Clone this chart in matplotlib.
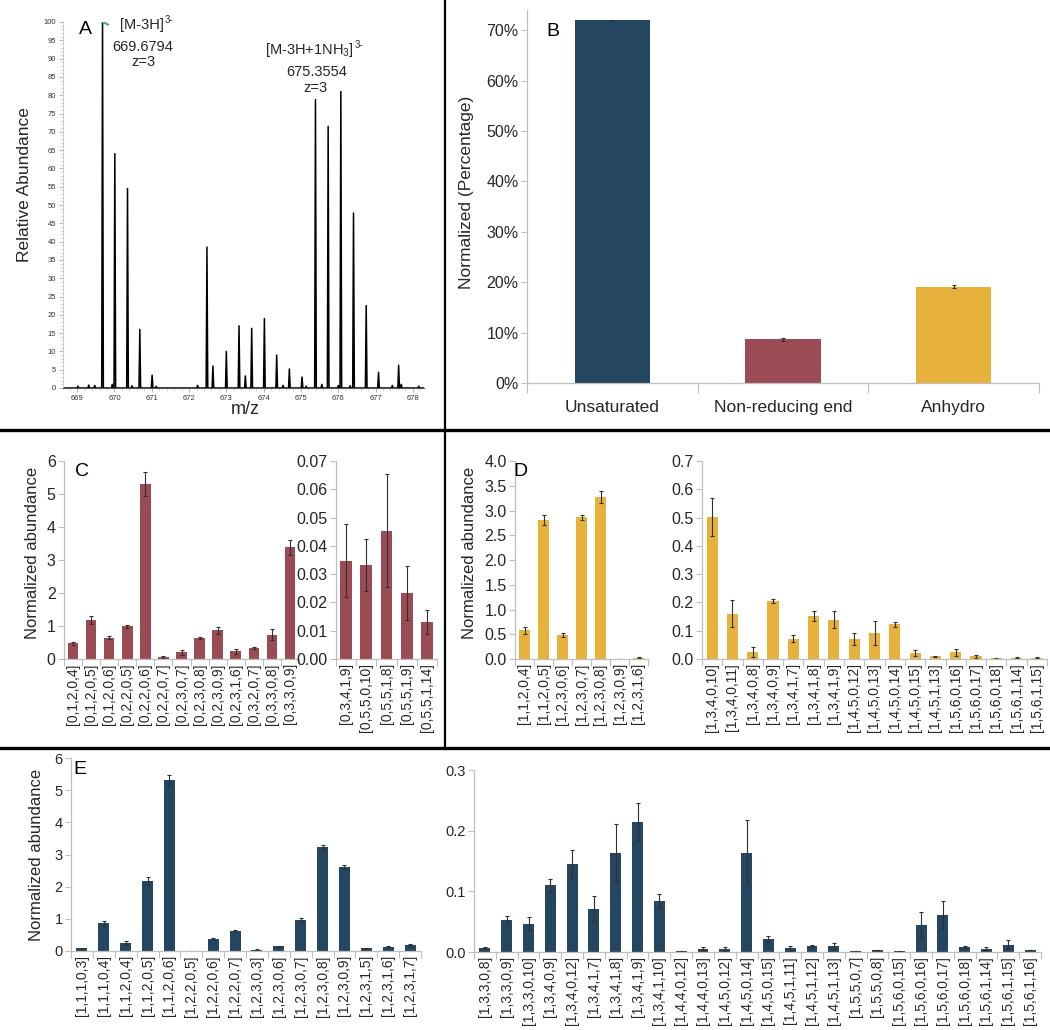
import numpy as np
import matplotlib
matplotlib.use('Agg')
import matplotlib.pyplot as plt
from matplotlib.lines import Line2D
from matplotlib.ticker import FixedLocator, MultipleLocator, FuncFormatter

plt.rcParams['font.family'] = ['Liberation Sans', 'DejaVu Sans']
plt.rcParams['mathtext.default'] = 'regular'

W, H = 1050, 1030

# ---------------- data ----------------
# A: centroid peaks (m/z, relative abundance)
peak_mz = [669.02, 669.31, 669.47, 669.68, 669.94, 670.01, 670.35, 670.47, 670.68,
           671.01, 671.12, 672.23, 672.48, 672.64, 673.00, 673.34, 673.51, 673.68,
           674.02, 674.35, 674.52, 674.69, 675.03, 675.14, 675.39, 675.56, 675.73,
           676.00, 676.07, 676.32, 676.41, 676.75, 677.08, 677.45, 677.62, 677.69,
           678.16]
peak_int = [0.5, 0.8, 0.7, 100, 1.0, 64, 54.5, 0.6, 16,
            3.5, 0.5, 0.7, 38.5, 6, 10, 17, 3.3, 16.3,
            19, 9, 0.7, 5.2, 3, 0.5, 78.8, 1, 71.5,
            0.7, 81, 0.6, 47.8, 22.5, 4.3, 0.7, 6.2, 1,
            0.5]

# B
b_cats = ['Unsaturated', 'Non-reducing end', 'Anhydro']
b_vals = [0.720, 0.087, 0.191]
b_errs = [0.001, 0.003, 0.003]

# C
c1_labels = ['[0,1,2,0,4]', '[0,1,2,0,5]', '[0,1,2,0,6]', '[0,2,2,0,5]', '[0,2,2,0,6]',
             '[0,2,2,0,7]', '[0,2,3,0,7]', '[0,2,3,0,8]', '[0,2,3,0,9]', '[0,2,3,1,6]',
             '[0,3,2,0,7]', '[0,3,3,0,8]', '[0,3,3,0,9]']
c1_vals = [0.47, 1.18, 0.65, 0.99, 5.30, 0.06, 0.20, 0.63, 0.87, 0.23, 0.33, 0.74, 3.38]
c1_errs = [0.06, 0.11, 0.05, 0.04, 0.36, 0.02, 0.07, 0.03, 0.10, 0.07, 0.04, 0.17, 0.24]
c2_labels = ['[0,3,4,1,9]', '[0,5,5,0,10]', '[0,5,5,1,8]', '[0,5,5,1,9]', '[0,5,5,1,14]']
c2_vals = [0.0348, 0.0333, 0.0454, 0.0233, 0.0131]
c2_errs = [0.0130, 0.0092, 0.0200, 0.0095, 0.0044]

# D
d1_labels = ['[1,1,2,0,4]', '[1,1,2,0,5]', '[1,2,3,0,6]', '[1,2,3,0,7]', '[1,2,3,0,8]',
             '[1,2,3,0,9]', '[1,2,3,1,6]']
d1_vals = [0.58, 2.81, 0.49, 2.86, 3.28, 0.005, 0.03]
d1_errs = [0.07, 0.10, 0.04, 0.05, 0.12, 0.0, 0.01]
d2_labels = ['[1,3,4,0,10]', '[1,3,4,0,11]', '[1,3,4,0,8]', '[1,3,4,0,9]', '[1,3,4,1,7]',
             '[1,3,4,1,8]', '[1,3,4,1,9]', '[1,4,5,0,12]', '[1,4,5,0,13]', '[1,4,5,0,14]',
             '[1,4,5,0,15]', '[1,4,5,1,13]', '[1,5,6,0,16]', '[1,5,6,0,17]', '[1,5,6,0,18]',
             '[1,5,6,1,14]', '[1,5,6,1,15]']
d2_vals = [0.502, 0.160, 0.025, 0.205, 0.072, 0.151, 0.139, 0.071, 0.092, 0.123,
           0.021, 0.009, 0.024, 0.009, 0.002, 0.004, 0.005]
d2_errs = [0.068, 0.047, 0.017, 0.007, 0.012, 0.017, 0.031, 0.021, 0.041, 0.009,
           0.012, 0.003, 0.012, 0.005, 0.001, 0.002, 0.002]

# E
e1_labels = ['[1,1,1,0,3]', '[1,1,1,0,4]', '[1,1,2,0,4]', '[1,1,2,0,5]', '[1,1,2,0,6]',
             '[1,2,2,0,5]', '[1,2,2,0,6]', '[1,2,2,0,7]', '[1,2,3,0,3]', '[1,2,3,0,6]',
             '[1,2,3,0,7]', '[1,2,3,0,8]', '[1,2,3,0,9]', '[1,2,3,1,5]', '[1,2,3,1,6]',
             '[1,2,3,1,7]']
e1_vals = [0.08, 0.86, 0.26, 2.18, 5.33, 0.005, 0.37, 0.63, 0.04, 0.145,
           0.96, 3.24, 2.61, 0.08, 0.13, 0.20]
e1_errs = [0.02, 0.08, 0.06, 0.12, 0.13, 0.0, 0.02, 0.02, 0.01, 0.02,
           0.06, 0.06, 0.06, 0.02, 0.02, 0.03]
e2_labels = ['[1,3,3,0,8]', '[1,3,3,0,9]', '[1,3,3,0,10]', '[1,3,4,0,9]', '[1,3,4,0,12]',
             '[1,3,4,1,7]', '[1,3,4,1,8]', '[1,3,4,1,9]', '[1,3,4,1,10]', '[1,4,4,0,12]',
             '[1,4,4,0,13]', '[1,4,5,0,12]', '[1,4,5,0,14]', '[1,4,5,0,15]', '[1,4,5,1,11]',
             '[1,4,5,1,12]', '[1,4,5,1,13]', '[1,5,5,0,7]', '[1,5,5,0,8]', '[1,5,6,0,15]',
             '[1,5,6,0,16]', '[1,5,6,0,17]', '[1,5,6,0,18]', '[1,5,6,1,14]', '[1,5,6,1,15]',
             '[1,5,6,1,16]']
e2_vals = [0.0065, 0.052, 0.046, 0.110, 0.145, 0.0715, 0.164, 0.215, 0.084, 0.001,
           0.0055, 0.0045, 0.164, 0.022, 0.006, 0.0095, 0.0105, 0.002, 0.003, 0.001,
           0.045, 0.0615, 0.0075, 0.0055, 0.012, 0.003]
e2_errs = [0.002, 0.007, 0.012, 0.011, 0.023, 0.021, 0.047, 0.031, 0.012, 0.0,
           0.002, 0.003, 0.054, 0.005, 0.004, 0.002, 0.005, 0.0, 0.0, 0.0,
           0.021, 0.023, 0.003, 0.002, 0.007, 0.0]

BLUE = '#254660'
RED = '#9b4b53'
GOLD = '#e6b23c'
SPINE = '#bfbfbf'
TXT = '#262626'


def px_rect(l, r, t, b):
    return [l / W, 1 - b / H, (r - l) / W, (b - t) / H]


fig = plt.figure(figsize=(W / 100, H / 100), dpi=100)
renderer = fig.canvas.get_renderer()


def bar_axes(rect, labels, vals, errs, color, ymax, ystep, fmt, width=0.55,
             fs_y=11, fs_x=10):
    ax = fig.add_axes(rect)
    x = np.arange(len(labels))
    ax.bar(x, vals, width, color=color, yerr=errs, zorder=2,
           error_kw=dict(ecolor='#303030', elinewidth=0.8, capsize=1.6, capthick=0.8))
    ax.set_xlim(-0.5, len(labels) - 0.5)
    ax.set_ylim(0, ymax)
    ax.set_yticks(np.arange(0, ymax + ystep / 2, ystep))
    ax.yaxis.set_major_formatter(FuncFormatter(lambda v, p: fmt.format(v)))
    ax.set_xticks(x)
    ax.set_xticklabels(labels, rotation=90, fontsize=fs_x, color=TXT)
    ax.xaxis.set_minor_locator(FixedLocator(np.arange(-0.5, len(labels), 1.0)))
    ax.tick_params(axis='x', which='major', length=0, pad=3)
    ax.tick_params(axis='x', which='minor', length=5, color=SPINE, width=0.8)
    ax.tick_params(axis='y', length=4, color=SPINE, width=0.8, labelsize=fs_y,
                   labelcolor=TXT, pad=2)
    for s in ['top', 'right']:
        ax.spines[s].set_visible(False)
    for s in ['left', 'bottom']:
        ax.spines[s].set_color(SPINE)
        ax.spines[s].set_linewidth(0.9)
    return ax


def ion_label(x, y, base, charge, fs=10.5):
    # base text, then a small raised "3-" right after it (hyphen, not minus)
    t = fig.text(x / W, 1 - y / H, base, ha='left', va='center', fontsize=fs, color=TXT)
    bb = t.get_window_extent(renderer)
    fig.text((bb.x1 + 1) / W, 1 - (y - 5) / H, charge, ha='left', va='center',
             fontsize=7, color=TXT)


# ---------------- A: mass spectrum ----------------
axA = fig.add_axes(px_rect(63, 424, 22, 388))
hw = 0.022
xs = [668.62]
ys = [0.0]
for mz, h in zip(peak_mz, peak_int):
    xs += [mz - hw, mz, mz + hw]
    ys += [0.0, h, 0.0]
xs.append(678.3)
ys.append(0.0)
axA.plot(xs, ys, color='black', lw=1.1)
axA.plot([669.68, 669.83], [100, 99.3], color='#3aaa80', lw=1.4)
axA.set_xlim(668.62, 678.3)
axA.set_ylim(0, 100)
axA.set_yticks(np.arange(0, 101, 5))
axA.set_xticks(np.arange(669, 679, 1))
axA.yaxis.set_minor_locator(MultipleLocator(1))
axA.xaxis.set_minor_locator(MultipleLocator(0.2))
axA.tick_params(axis='both', which='major', labelsize=5.5, labelcolor='#333333',
                color='#aaaaaa', length=3, width=0.6, pad=2)
axA.tick_params(axis='both', which='minor', color='#cccccc', length=2, width=0.5)
for s in ['top', 'right']:
    axA.spines[s].set_visible(False)
axA.spines['left'].set_color('#cccccc')
axA.spines['bottom'].set_color('#555555')
axA.spines['bottom'].set_linewidth(0.8)

fig.text(25 / W, 1 - 185 / H, 'Relative Abundance', rotation=90, ha='center',
         va='center', fontsize=12.5, color=TXT)
fig.text(245 / W, 1 - 410 / H, 'm/z', ha='center', va='center', fontsize=13, color=TXT)
fig.text(85 / W, 1 - 30 / H, 'A', ha='center', va='center', fontsize=14, color='black')
ion_label(120, 25, '[M-3H]', '3-')
fig.text(143 / W, 1 - 47 / H, '669.6794', ha='center', va='center', fontsize=10.5, color=TXT)
fig.text(143 / W, 1 - 62 / H, 'z=3', ha='center', va='center', fontsize=10.5, color=TXT)
ion_label(265, 50, '[M-3H+1NH$_3$]', '3-')
fig.text(317 / W, 1 - 72 / H, '675.3554', ha='center', va='center', fontsize=10.5, color=TXT)
fig.text(315 / W, 1 - 88 / H, 'z=3', ha='center', va='center', fontsize=10.5, color=TXT)

# ---------------- B ----------------
axB = bar_axes(px_rect(527, 1039, 10, 383), b_cats, b_vals, b_errs,
               [BLUE, RED, GOLD], 0.74, 0.10, '{:.0%}', width=0.44, fs_y=11.5, fs_x=12.5)
axB.set_yticks(np.arange(0, 0.71, 0.1))
axB.set_xticklabels(b_cats, rotation=0, fontsize=12.5, color=TXT)
axB.tick_params(axis='x', which='major', pad=12)
axB.tick_params(axis='x', which='minor', length=7)
fig.text(466 / W, 1 - 192 / H, 'Normalized (Percentage)', rotation=90, ha='center',
         va='center', fontsize=12.5, color=TXT)
fig.text(553 / W, 1 - 31 / H, 'B', ha='center', va='center', fontsize=14, color='black')

# ---------------- C ----------------
bar_axes(px_rect(64, 299, 461, 659), c1_labels, c1_vals, c1_errs, RED, 6, 1, '{:.0f}',
         width=0.58, fs_y=11.5)
bar_axes(px_rect(336, 437, 461, 659), c2_labels, c2_vals, c2_errs, RED, 0.07, 0.01,
         '{:.2f}', width=0.58, fs_y=11.5)
fig.text(33 / W, 1 - 553 / H, 'Normalized abundance', rotation=90, ha='center',
         va='center', fontsize=12, color=TXT)
fig.text(82 / W, 1 - 472 / H, 'C', ha='center', va='center', fontsize=14, color='black')

# ---------------- D ----------------
bar_axes(px_rect(515, 648, 461, 659), d1_labels, d1_vals, d1_errs, GOLD, 4.0, 0.5,
         '{:.1f}', width=0.55, fs_y=11.5)
bar_axes(px_rect(702, 1047, 461, 659), d2_labels, d2_vals, d2_errs, GOLD, 0.7, 0.1,
         '{:.1f}', width=0.55, fs_y=11.5)
fig.text(470 / W, 1 - 553 / H, 'Normalized abundance', rotation=90, ha='center',
         va='center', fontsize=12, color=TXT)
fig.text(520 / W, 1 - 472 / H, 'D', ha='center', va='center', fontsize=14, color='black')

# ---------------- E ----------------
bar_axes(px_rect(71, 421, 758, 951), e1_labels, e1_vals, e1_errs, BLUE, 6, 1, '{:.0f}',
         width=0.5, fs_y=10.5)
bar_axes(px_rect(474, 1041, 770, 952), e2_labels, e2_vals, e2_errs, BLUE, 0.3, 0.1,
         '{:.1f}', width=0.5, fs_y=10.5)
fig.text(37 / W, 1 - 855 / H, 'Normalized abundance', rotation=90, ha='center',
         va='center', fontsize=12, color=TXT)
fig.text(80 / W, 1 - 770 / H, 'E', ha='center', va='center', fontsize=14, color='black')

# ---------------- panel dividers ----------------
fig.add_artist(Line2D([0, 1], [1 - 430 / H, 1 - 430 / H], transform=fig.transFigure,
                      color='black', lw=2.4))
fig.add_artist(Line2D([0, 1], [1 - 748 / H, 1 - 748 / H], transform=fig.transFigure,
                      color='black', lw=2.4))
fig.add_artist(Line2D([445 / W, 445 / W], [1 - 748 / H, 1], transform=fig.transFigure,
                      color='black', lw=1.6))

fig.savefig('out.png', dpi=100)
